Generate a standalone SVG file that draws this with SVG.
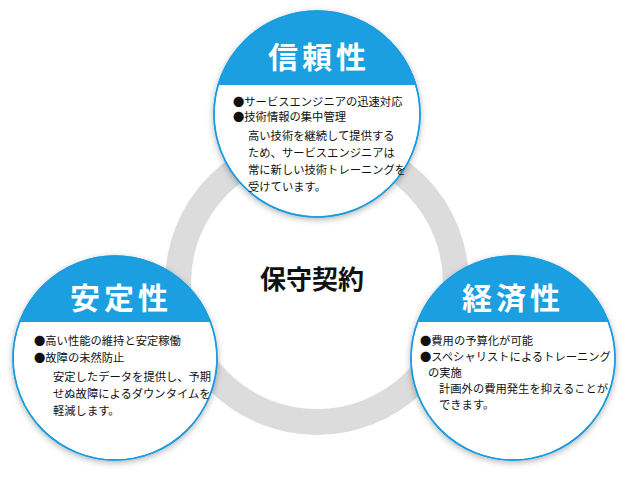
<svg xmlns="http://www.w3.org/2000/svg" width="634" height="494" viewBox="0 0 634 494">
<style>
.t{font-family:"Noto Sans CJK JP","Noto Sans",sans-serif;font-size:30px;font-weight:bold;fill:#fff;letter-spacing:4px}
.b{font-family:"Noto Sans CJK JP","Noto Sans",sans-serif;font-size:11.3px;fill:#111}
.c{fill:#fff;stroke:#1a9de0;stroke-width:1.5}
</style>
<defs>
<filter id="sh" x="-20%" y="-20%" width="140%" height="140%"><feDropShadow dx="0" dy="2" stdDeviation="3" flood-color="#000" flood-opacity="0.3"/></filter>
<clipPath id="c1"><circle cx="317" cy="114" r="103"/></clipPath>
<clipPath id="c2"><circle cx="115" cy="358" r="102"/></clipPath>
<clipPath id="c3"><circle cx="513" cy="358" r="102"/></clipPath>
</defs>
<g id="connectors">
<circle cx="317" cy="283" r="139" fill="none" stroke="#dcdcdc" stroke-width="26"/>
</g>
<g id="center"><text x="312" y="289" text-anchor="middle" font-family="'Noto Sans CJK JP',sans-serif" font-size="26" font-weight="bold" fill="#111">保守契約</text></g>
<g id="n1">
<circle cx="317" cy="114" r="103" class="c" filter="url(#sh)"/>
<rect x="200" y="0" width="240" height="85" fill="#1c9fe0" clip-path="url(#c1)"/>
<circle cx="317" cy="114" r="103" fill="none" stroke="#1a9de0" stroke-width="1.5"/>
<text x="319" y="68" text-anchor="middle" class="t">信頼性</text>
<text x="233" y="106" class="b">●サービスエンジニアの迅速対応</text>
<text x="233" y="121" class="b">●技術情報の集中管理</text>
<text x="248" y="140" class="b">高い技術を継続して提供する</text>
<text x="248" y="157" class="b">ため、サービスエンジニアは</text>
<text x="248" y="174" class="b">常に新しい技術トレーニングを</text>
<text x="248" y="191" class="b">受けています。</text>
</g>
<g id="n2">
<circle cx="115" cy="358" r="102" class="c" filter="url(#sh)"/>
<rect x="0" y="240" width="230" height="82" fill="#1c9fe0" clip-path="url(#c2)"/>
<circle cx="115" cy="358" r="102" fill="none" stroke="#1a9de0" stroke-width="1.5"/>
<text x="121" y="309" text-anchor="middle" class="t">安定性</text>
<text x="34" y="345" class="b">●高い性能の維持と安定稼働</text>
<text x="34" y="362" class="b">●故障の未然防止</text>
<text x="53" y="381" class="b">安定したデータを提供し、予期</text>
<text x="53" y="398" class="b">せぬ故障によるダウンタイムを</text>
<text x="53" y="415" class="b">軽減します。</text>
</g>
<g id="n3">
<circle cx="513" cy="358" r="102" class="c" filter="url(#sh)"/>
<rect x="400" y="240" width="230" height="82" fill="#1c9fe0" clip-path="url(#c3)"/>
<circle cx="513" cy="358" r="102" fill="none" stroke="#1a9de0" stroke-width="1.5"/>
<text x="513" y="309" text-anchor="middle" class="t">経済性</text>
<text x="420" y="345" class="b">●費用の予算化が可能</text>
<text x="420" y="361" class="b">●スペシャリストによるトレーニング</text>
<text x="428" y="377" class="b">の実施</text>
<text x="439" y="393" class="b">計画外の費用発生を抑えることが</text>
<text x="439" y="409" class="b">できます。</text>
</g>
</svg>
